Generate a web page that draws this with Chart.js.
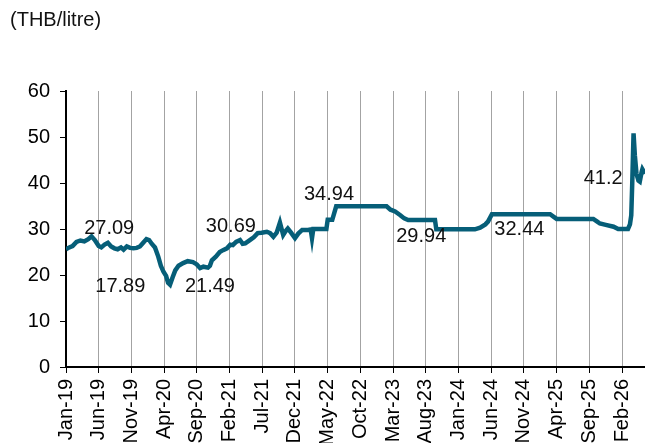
<!DOCTYPE html>
<html>
<head>
<meta charset="utf-8">
<script src="https://cdn.jsdelivr.net/npm/chart.js@4"></script>
<style>
  html, body { margin: 0; padding: 0; background: #fff; }
  #wrap { width: 645px; height: 443px; }
</style>
</head>
<body>
<div id="wrap"><canvas id="dieselChart" width="645" height="443"></canvas></div>
<script>
// x values are months since Jan-19 (0 = Jan-19)
var months = [
  0, 0.5, 1.0, 1.6, 2.2, 2.8, 3.4, 3.9, 4.4, 5.0, 5.4, 5.9, 6.4, 6.9, 7.4, 7.9, 8.4, 8.8, 9.3, 9.8,
  10.3, 10.8, 11.3, 11.8, 12.3, 12.7, 13.1, 13.6, 14.1, 14.5, 14.9, 15.3, 15.6, 15.9, 16.3, 16.7, 17.2, 17.9, 18.6, 19.4,
  20.0, 20.5, 21.0, 21.7, 22.0, 22.3, 22.9, 23.5, 24.0, 24.6, 25.1, 25.5, 26.0, 26.6, 27.0, 27.4, 28.1, 28.7, 29.3, 29.9,
  30.7, 31.2, 31.7, 32.2, 32.7, 33.2, 33.6, 33.9, 34.4, 35.0, 35.5, 36.1, 37.0, 37.4, 37.6, 37.8, 39.8, 40.0, 40.7, 41.3,
  49.0, 49.6, 50.3, 51.1, 51.7, 52.3, 56.4, 56.6, 62.5, 63.3, 64.1, 64.5, 65.1, 74.0, 74.5, 75.0, 80.6, 81.2, 81.6, 82.5,
  83.7, 84.4, 85.9, 86.2, 86.4, 86.55, 86.75, 86.95, 87.2, 87.5, 87.7, 88.0, 88.1, 88.5
];
var prices = [
  25.6, 26.0, 26.3, 27.2, 27.5, 27.3, 27.8, 28.4, 27.6, 26.3, 26.0, 26.6, 27.0, 26.2, 25.8, 25.6, 26.0, 25.5, 26.2, 25.9,
  25.8, 25.9, 26.2, 27.0, 27.8, 27.6, 26.8, 26.0, 24.0, 22.0, 20.7, 19.8, 18.3, 17.89, 19.5, 21.0, 22.0, 22.6, 23.0, 22.8,
  22.3, 21.49, 21.8, 21.6, 22.0, 23.2, 24.0, 25.0, 25.4, 25.8, 26.6, 26.5, 27.2, 27.6, 26.8, 26.9, 27.6, 28.2, 29.1, 29.2,
  29.4, 29.1, 28.3, 29.2, 31.4, 28.7, 29.6, 30.1, 29.2, 28.0, 29.0, 29.8, 29.8, 29.9, 28.0, 30.0, 30.0, 32.0, 32.0, 34.94,
  34.94, 34.2, 33.8, 33.0, 32.3, 31.94, 31.94, 29.94, 29.94, 30.3, 31.0, 31.6, 33.2, 33.2, 32.7, 32.2, 32.2, 31.6, 31.2, 30.9,
  30.5, 30.0, 30.0, 31.0, 33.0, 40.0, 50.8, 46.0, 42.0, 40.5, 40.3, 42.5, 43.0, 42.0
];
var tickLabels = ['Jan-19', 'Jun-19', 'Nov-19', 'Apr-20', 'Sep-20', 'Feb-21', 'Jul-21', 'Dec-21', 'May-22',
  'Oct-22', 'Mar-23', 'Aug-23', 'Jan-24', 'Jun-24', 'Nov-24', 'Apr-25', 'Sep-25', 'Feb-26'];

// value labels written on the chart, anchored in data units
var noteTexts = ['27.09', '17.89', '21.49', '30.69', '34.94', '29.94', '32.44', '41.2'];
var noteMonths = [6.6, 8.3, 22.0, 25.2, 40.2, 54.3, 69.3, 82.1];
var noteValues = [30.2, 17.4, 17.4, 30.5, 37.4, 28.3, 29.8, 40.9];

var FONT = "'Liberation Sans', Arial, sans-serif";

var notesPlugin = {
  id: 'notes',
  afterDatasetsDraw: function (chart) {
    var ctx = chart.ctx;
    var xs = chart.scales.x, ys = chart.scales.y;
    ctx.save();
    ctx.fillStyle = '#111';
    ctx.font = '20px ' + FONT;
    ctx.textAlign = 'center';
    ctx.textBaseline = 'middle';
    noteTexts.forEach(function (t, i) {
      ctx.fillText(t, xs.getPixelForValue(noteMonths[i]), ys.getPixelForValue(noteValues[i]));
    });
    // unit label top-left
    ctx.textAlign = 'left';
    ctx.fillText('(THB/litre)', 10, 20);
    ctx.restore();
  }
};

var ctx = document.getElementById('dieselChart').getContext('2d');
var dieselChart = new Chart(ctx, {
  type: 'line',
  data: {
    datasets: [{
      label: 'Diesel',
      data: months.map(function (m, i) { return { x: m, y: prices[i] }; }),
      borderColor: '#065e78',
      borderWidth: 4.5,
      pointRadius: 0,
      tension: 0,
      fill: false
    }]
  },
  options: {
    responsive: false,
    animation: false,
    layout: { autoPadding: false, padding: { top: 91, left: 0, right: 0, bottom: 0 } },
    plugins: {
      legend: { display: false },
      tooltip: { enabled: false }
    },
    scales: {
      x: {
        type: 'linear',
        min: 0,
        max: 88.5,
        afterBuildTicks: function (scale) {
          scale.ticks = tickLabels.map(function (_, i) { return { value: i * 5 }; });
        },
        afterFit: function (scale) {
          scale.height = 76;
          scale.paddingLeft = 0;
          scale.paddingRight = 0;
        },
        ticks: {
          autoSkip: false,
          minRotation: 90,
          maxRotation: 90,
          padding: 6,
          color: '#000',
          font: { size: 20, family: FONT },
          callback: function (v) { return tickLabels[Math.round(v / 5)]; }
        },
        grid: {
          color: '#a3a3a3',
          lineWidth: 1,
          tickColor: '#000',
          tickLength: 6
        },
        border: { display: true, color: '#000', width: 2 }
      },
      y: {
        min: 0,
        max: 60,
        afterFit: function (scale) { scale.width = 66; },
        ticks: {
          stepSize: 10,
          padding: 10,
          color: '#000',
          font: { size: 20, family: FONT }
        },
        grid: {
          drawOnChartArea: false,
          color: '#000',
          tickLength: 6
        },
        border: { display: true, color: '#000', width: 2 }
      }
    }
  },
  plugins: [notesPlugin]
});
</script>
</body>
</html>
